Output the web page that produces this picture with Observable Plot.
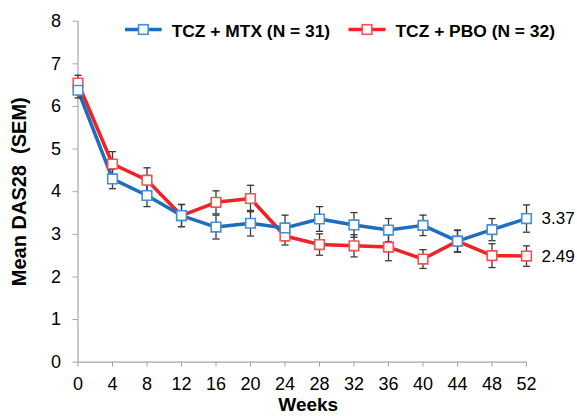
<!DOCTYPE html>
<html>
<head>
<meta charset="utf-8">
<script src="https://cdn.jsdelivr.net/npm/d3@7"></script>
<script src="https://cdn.jsdelivr.net/npm/@observablehq/plot@0.6"></script>
<style>
  html, body { margin: 0; padding: 0; background: #fff; }
  #wrap { position: relative; width: 577px; height: 416px; font-family: "Liberation Sans", Arial, sans-serif; }
  #wrap svg text { white-space: pre; }
  #legend { position: absolute; left: 0; top: 0; }
</style>
</head>
<body>
<div id="wrap"></div>
<script>
const weeks = [0, 4, 8, 12, 16, 20, 24, 28, 32, 36, 40, 44, 48, 52];
const seriesNames = ["TCZ + MTX (N = 31)", "TCZ + PBO (N = 32)"];
const mtxMean = [6.38, 4.30, 3.91, 3.44, 3.17, 3.26, 3.15, 3.36, 3.22, 3.10, 3.21, 2.84, 3.11, 3.37];
const mtxSem  = [0.18, 0.23, 0.26, 0.26, 0.28, 0.30, 0.30, 0.29, 0.29, 0.27, 0.24, 0.26, 0.26, 0.32];
const pboMean = [6.55, 4.65, 4.27, 3.44, 3.75, 3.84, 2.96, 2.76, 2.73, 2.70, 2.42, 2.84, 2.50, 2.49];
const pboSem  = [0.18, 0.29, 0.29, 0.26, 0.27, 0.31, 0.21, 0.25, 0.26, 0.32, 0.22, 0.25, 0.28, 0.24];
const yTicks = [0, 1, 2, 3, 4, 5, 6, 7, 8];
const lineColors = ["#1f6dbd", "#ee2227"];
const markerColors = ["#4a8fd3", "#f05454"];

const rows = [];
weeks.forEach((w, i) => {
  rows.push({series: seriesNames[1], k: 1, x: w, y: pboMean[i], sem: pboSem[i]});
});
weeks.forEach((w, i) => {
  rows.push({series: seriesNames[0], k: 0, x: w, y: mtxMean[i], sem: mtxSem[i]});
});
const lastRows = rows.filter(d => d.x === weeks[weeks.length - 1]);

const capSymbol = {
  draw(ctx, size) { ctx.moveTo(-3.6, 0); ctx.lineTo(3.6, 0); }
};

const chart = Plot.plot({
  width: 577,
  height: 416,
  marginLeft: 77.5,
  marginRight: 51,
  marginTop: 20.7,
  marginBottom: 54.3,
  style: {fontFamily: "'Liberation Sans', Arial, sans-serif", background: "white", overflow: "visible"},
  x: {domain: [0, 52]},
  y: {domain: [0, 8]},
  marks: [
    Plot.axisX({ticks: weeks, tickSize: 5, tickPadding: 10, fontSize: 18, stroke: "#a6a6a6", color: "#000", label: null}),
    Plot.axisY({ticks: yTicks, tickSize: 5, tickPadding: 12, fontSize: 18, stroke: "#a6a6a6", color: "#000", label: null}),
    Plot.ruleX([0], {stroke: "#a6a6a6", strokeWidth: 1.2}),
    Plot.ruleY([0], {stroke: "#a6a6a6", strokeWidth: 1.2}),
    Plot.line(rows, {x: "x", y: "y", z: "series", stroke: d => lineColors[d.k], strokeWidth: 3.5}),
    Plot.ruleX(rows, {x: "x", y1: d => d.y - d.sem, y2: d => d.y + d.sem, stroke: "#3a3a3a", strokeWidth: 1.3}),
    Plot.dot(rows, {x: "x", y: d => d.y - d.sem, symbol: capSymbol, r: 4, stroke: "#3a3a3a", strokeWidth: 1.3, fill: "none"}),
    Plot.dot(rows, {x: "x", y: d => d.y + d.sem, symbol: capSymbol, r: 4, stroke: "#3a3a3a", strokeWidth: 1.3, fill: "none"}),
    Plot.dot(rows, {x: "x", y: "y", symbol: "square", r: 5.4, fill: "white", stroke: d => markerColors[d.k], strokeWidth: 1.6}),
    Plot.text(lastRows, {x: "x", y: "y", text: d => d.y.toFixed(2), dx: 15, textAnchor: "start", fontSize: 17, fill: "#000"}),
    Plot.text(["Mean DAS28  (SEM)"], {frameAnchor: "left", textAnchor: "middle", rotate: -90, dx: -58, dy: 0, fontWeight: "bold", fontSize: 20, fill: "#000"}),
    Plot.text(["Weeks"], {frameAnchor: "bottom", textAnchor: "middle", dy: 48.5, dx: 6, fontWeight: "bold", fontSize: 19, fill: "#000"})
  ]
});

const wrap = document.getElementById("wrap");
wrap.appendChild(chart);

// Legend overlay
const legendItems = [
  {name: seriesNames[0], k: 0, x0: 125, x1: 161.7},
  {name: seriesNames[1], k: 1, x0: 348.5, x1: 385.5}
];
const leg = d3.select(wrap).append("svg")
  .attr("id", "legend")
  .attr("width", 577).attr("height", 50)
  .style("font-family", "'Liberation Sans', Arial, sans-serif");
legendItems.forEach(it => {
  const g = leg.append("g");
  g.append("line").attr("x1", it.x0).attr("x2", it.x1).attr("y1", 29.5).attr("y2", 29.5)
    .attr("stroke", lineColors[it.k]).attr("stroke-width", 3.5);
  const cx = (it.x0 + it.x1) / 2;
  g.append("rect").attr("x", cx - 4.8).attr("y", 29.5 - 4.8).attr("width", 9.6).attr("height", 9.6)
    .attr("fill", "white").attr("stroke", markerColors[it.k]).attr("stroke-width", 1.6);
  g.append("text").attr("x", it.x1 + 10).attr("y", 30.5).attr("dy", "0.35em")
    .attr("font-size", 17.4).attr("font-weight", "bold").attr("fill", "#000").text(it.name);
});
</script>
</body>
</html>
